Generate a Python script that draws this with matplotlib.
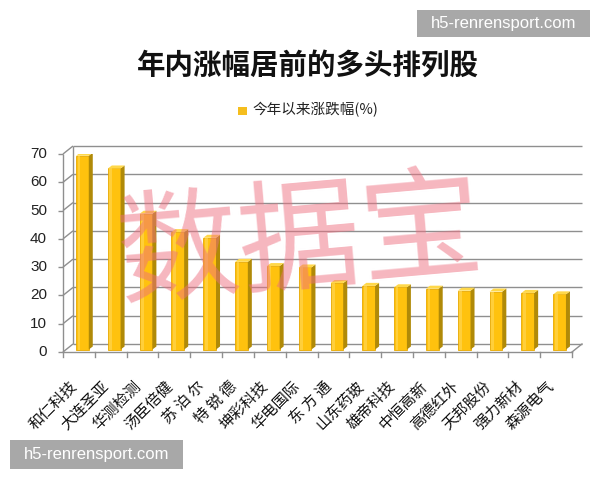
import matplotlib
matplotlib.use('Agg')
import matplotlib.pyplot as plt
from matplotlib.patches import Polygon, Rectangle

stocks = ["和仁科技", "大连圣亚", "华测检测", "汤臣倍健", "苏 泊 尔", "特 锐 德",
          "坤彩科技", "华电国际", "东 方 通", "山东药玻", "雄帝科技", "中恒高新",
          "高德红外", "天邦股份", "强力新材", "森源电气"]
values = [68.5, 64.0, 48.0, 41.5, 39.5, 31.0, 29.5, 29.0, 23.5, 22.5, 22.0,
          21.5, 20.8, 20.5, 20.0, 19.5]
yticks = [0, 10, 20, 30, 40, 50, 60, 70]
title = "年内涨幅居前的多头排列股"
legend_label = "今年以来涨跌幅(%)"
watermark = "数据宝"
site = "h5-renrensport.com"

plt.rcParams['font.family'] = ['Noto Sans CJK SC', 'DejaVu Sans']

W, H = 600, 480
fig = plt.figure(figsize=(W / 100, H / 100), dpi=100)

def fp(x, y):
    return (x / W, 1 - y / H)

# axes: front plane
AX_L, AX_R, AX_B, AX_T = 63, 572, 352, 154
ax = fig.add_axes([AX_L / W, (H - AX_B) / H, (AX_R - AX_L) / W, (AX_B - AX_T) / H])
n = len(stocks)
ax.set_xlim(-0.5, n - 0.5)
ax.set_ylim(0, 70)
ax.axis('off')

pxx = (AX_R - AX_L) / n          # pixels per x unit
pxy = (AX_B - AX_T) / 70.0       # pixels per y unit

def dx(p):
    return p / pxx

def dy(p):
    return p / pxy

BDX, BDY = dx(10), dy(8)
x0, x1 = -0.5, n - 0.5
gc = '#8f8f8f'
lk = dict(color=gc, lw=1.0, clip_on=False, zorder=1, solid_capstyle='butt')

# back wall gridlines
for t in yticks:
    ax.plot([x0 + BDX, x1 + BDX], [t + BDY, t + BDY], **lk)
    ax.plot([x0, x0 + BDX], [t, t + BDY], **lk)
    ax.plot([x0 - dx(5), x0], [t, t], **lk)
# walls edges
ax.plot([x0, x0], [0, 70], **lk)
ax.plot([x0 + BDX, x0 + BDX], [BDY, 70 + BDY], **lk)
# floor
ax.plot([x0, x1], [0, 0], color=gc, lw=1.0, clip_on=False, zorder=6)
ax.plot([x1, x1 + BDX], [0, BDY], color=gc, lw=1.0, clip_on=False, zorder=6)
for k in range(n + 1):
    ax.plot([x0 + k, x0 + k], [0, -dy(5)], color=gc, lw=1.0, clip_on=False, zorder=6)

# bars (pseudo 3D)
w = 0.40
fdx, fdy = dx(3.5), dy(2.5)
sdx, sdy = dx(4), dy(3)
xs = [i + fdx for i in range(n)]
ax.bar(xs, values, width=w, bottom=fdy, color='#FFC20E', edgecolor='#E8A800',
       linewidth=0.6, zorder=3)
for xc, v in zip(xs, values):
    l, r = xc - w / 2, xc + w / 2
    top = fdy + v
    ax.add_patch(Polygon([(r, fdy), (r + sdx, fdy + sdy), (r + sdx, top + sdy), (r, top)],
                         closed=True, facecolor='#B08A08', edgecolor='none', zorder=3))
    ax.add_patch(Polygon([(l, top), (l + sdx, top + sdy), (r + sdx, top + sdy), (r, top)],
                         closed=True, facecolor='#FFD84A', edgecolor='none', zorder=3))
    ax.add_patch(Rectangle((l + w * 0.12, fdy), w * 0.22, v, facecolor='#FFD54F',
                           edgecolor='none', alpha=0.7, zorder=3))

# y tick labels
for t in yticks:
    ax.text(x0 - dx(16), t, str(t), ha='right', va='center', fontsize=11,
            family=['Liberation Sans', 'DejaVu Sans'], color='#222222')

# x tick labels
for i, s in enumerate(stocks):
    ax.text(i - dx(4), -dy(32), s, rotation=45, rotation_mode='anchor',
            ha='right', va='center', fontsize=11, color='#111111')

# title and legend
fig.text(*fp(308, 66), title, ha='center', va='center', fontsize=20.5,
         fontweight='bold', color='#111111')
fig.patches.append(Rectangle(fp(238, 115), 9 / W, 8 / H, transform=fig.transFigure,
                             facecolor='#F5BE1E', edgecolor='none'))
fig.text(*fp(252, 110), legend_label, ha='left', va='center', fontsize=10.5,
         color='#222222')

# watermark text
fig.text(*fp(300, 245), watermark, ha='center', va='center', fontsize=88,
         fontweight='light', color='#ee6f80', alpha=0.5, rotation=5, zorder=10)

# site boxes
for (bx0, by0, bx1, by1) in [(417, 10, 590, 37), (10, 440, 183, 469)]:
    fig.patches.append(Rectangle(fp(bx0, by1), (bx1 - bx0) / W, (by1 - by0) / H,
                                 transform=fig.transFigure, facecolor='#a8a8a8',
                                 edgecolor='none', zorder=11))
    fig.text(*fp((bx0 + bx1) / 2, (by0 + by1) / 2), site, ha='center', va='center',
             fontsize=12, color='white', family=['Liberation Sans', 'DejaVu Sans'],
             zorder=12)

fig.savefig('out.png', dpi=100)
